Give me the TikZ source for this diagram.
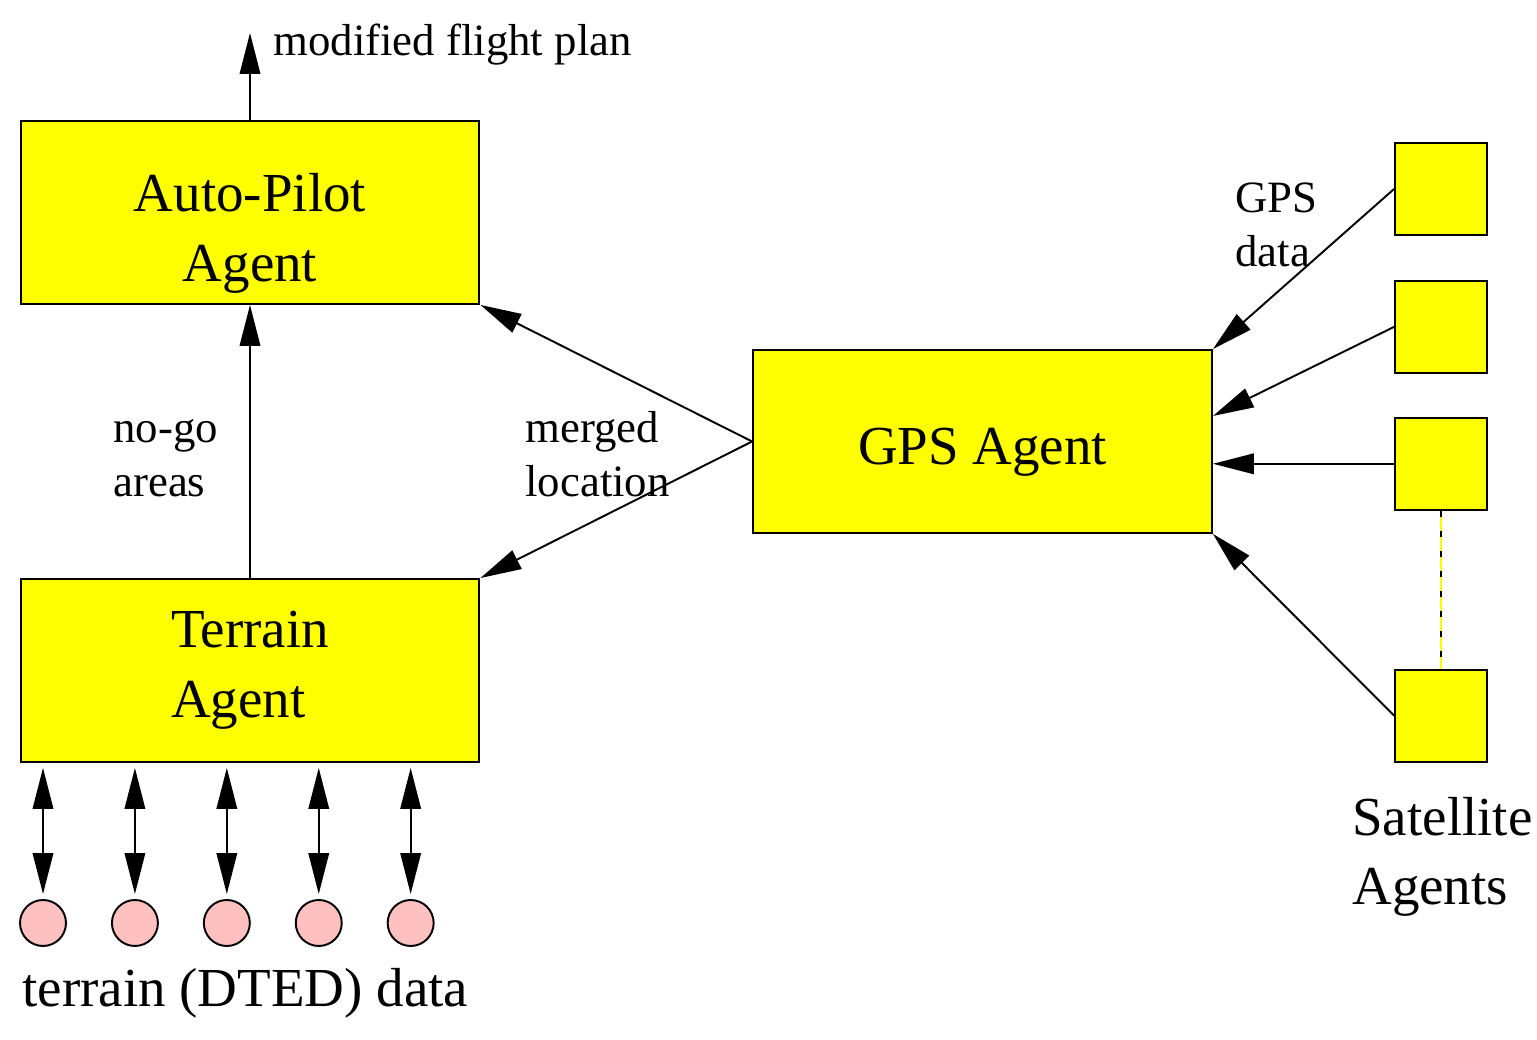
\documentclass[tikz,border=0pt]{standalone}
\usepackage{fontspec}
\setmainfont{Liberation Serif}
\usetikzlibrary{arrows.meta, positioning}

\definecolor{agentyellow}{RGB}{255,255,0}
\definecolor{dtedpink}{RGB}{255,192,192}

\begin{document}
\begin{tikzpicture}[
  x=0.02cm, y=0.02cm,
  every node/.style={align=center},
  bigtext/.style={font=\fontsize{31.3}{39.7}\selectfont},
  smalltext/.style={font=\fontsize{25.5}{31.2}\selectfont},
  agent/.style={draw, line width=1.1pt, fill=agentyellow, bigtext,
                minimum width=9.18cm, minimum height=3.66cm, inner sep=0pt},
  satellite/.style={draw, line width=1.1pt, fill=agentyellow,
                minimum size=1.84cm, inner sep=0pt},
  dted/.style={circle, draw, line width=1.1pt, fill=dtedpink,
                minimum size=0.92cm, inner sep=0pt},
  note/.style={smalltext, align=left, anchor=base west, inner sep=0pt},
  flow/.style={-{Triangle[length=0.82cm, width=0.41cm]}, line width=1.1pt},
  lookup/.style={{Triangle[length=0.82cm, width=0.41cm]}-{Triangle[length=0.82cm, width=0.41cm]},
                line width=1.1pt, shorten <=0.1cm, shorten >=0.1cm},
]
\useasboundingbox (0,0) rectangle (1537,1040);

% agents
\node [agent, text height=78.8pt, text depth=0pt] (autopilot) at (250,827.5) {Auto-Pilot \\ Agent};
\node [agent, align=left] (terrain) at (250,369.5) {Terrain \\ Agent};
\node [agent, text height=26.6pt, text depth=0pt] (gps) at (982.5,598.5) {GPS Agent};

% modified flight plan
\coordinate (plan) at (250,1007);
\draw [flow] (autopilot.north) -- (plan);
\node [note] (plantext) at (273,984) {modified flight plan};

% terrain -> auto-pilot
\draw [flow] (terrain.north) -- (autopilot.south);
\node [note] (nogo) at (113,543) {no-go \\ areas};

% gps -> auto-pilot, terrain
\draw [flow] (gps.west) -- (autopilot.south east);
\draw [flow] (gps.west) -- (terrain.north east);
\node [note] (merged) at (525,543) {merged \\ location};

% satellites
\node [satellite] (sat1) at (1441,851) {};
\node [satellite] (sat2) [below=0.88cm of sat1] {};
\node [satellite] (sat3) [below=0.86cm of sat2] {};
\node [satellite] (sat4) [below=3.16cm of sat3] {};

\draw [flow] (sat1.west) -- (gps.north east);
\draw [flow] (sat2.west) -- ([yshift=0.51cm]gps.east);
\draw [flow] (sat3.west) -- (sat3.west -| gps.east);
\draw [flow] (sat4.west) -- (gps.south east);
\draw [agentyellow, line width=0.8pt] (sat3.south) -- (sat4.north);
\draw [line width=1.1pt, dash pattern=on 0.12cm off 0.28cm] (sat3.south) -- (sat4.north);

\node [note] (gpsdata) at (1235,773) {GPS \\ data};
\node [note, bigtext] (satlabel) at (1352,135) {Satellite \\ Agents};

% terrain (DTED) data
\node [dted] (d1) at (43,117) {};
\node [dted] (d2) [right=0.88cm of d1] {};
\node [dted] (d3) [right=0.88cm of d2] {};
\node [dted] (d4) [right=0.88cm of d3] {};
\node [dted] (d5) [right=0.88cm of d4] {};

\draw [lookup] (d1.north) -- (d1.north |- terrain.south);
\draw [lookup] (d2.north) -- (d2.north |- terrain.south);
\draw [lookup] (d3.north) -- (d3.north |- terrain.south);
\draw [lookup] (d4.north) -- (d4.north |- terrain.south);
\draw [lookup] (d5.north) -- (d5.north |- terrain.south);

\node [note, bigtext] (dtedlabel) at (22,33) {terrain (DTED) data};

\end{tikzpicture}
\end{document}
